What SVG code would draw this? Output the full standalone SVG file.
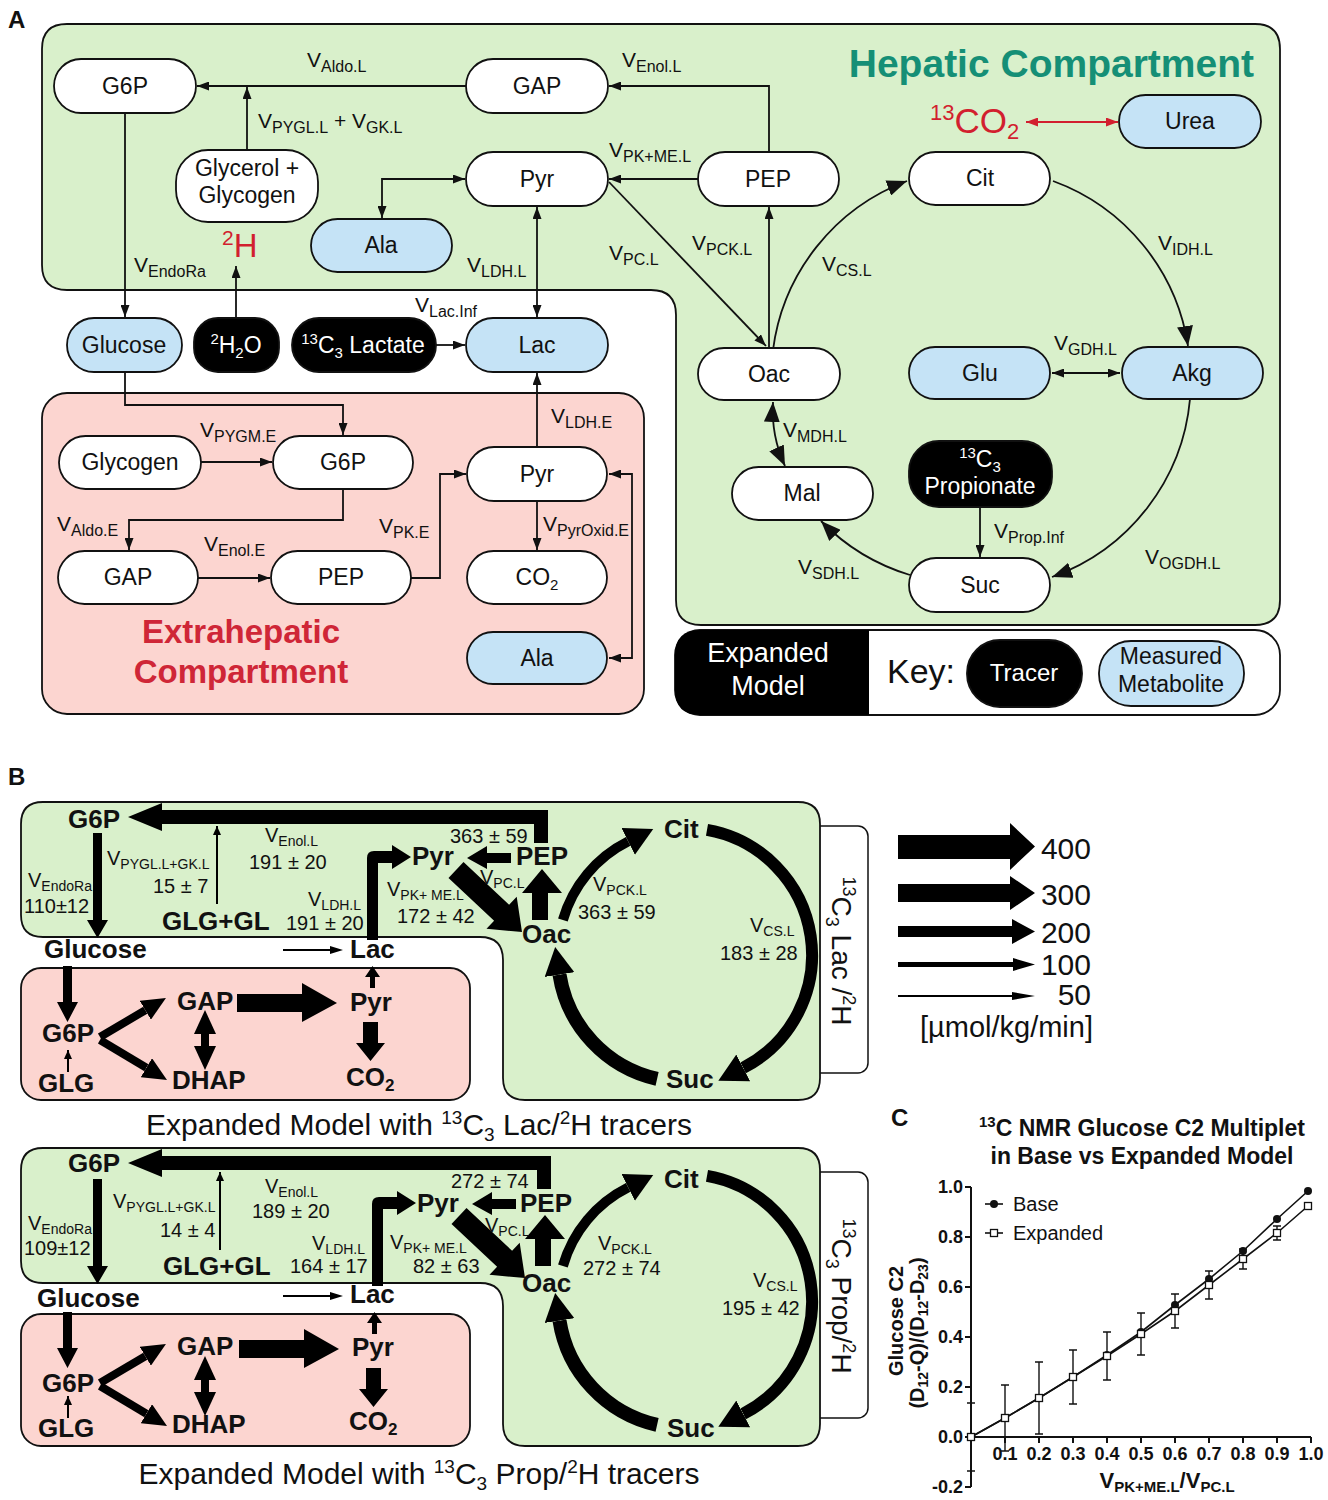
<svg xmlns="http://www.w3.org/2000/svg" width="1328" height="1500" viewBox="0 0 1328 1500">
<defs>
<style>
text{font-family:"Liberation Sans",Arial,sans-serif;fill:#111}
.nt{font-size:23px;text-anchor:middle}
.wt{fill:#fff}
.v{font-size:21px}
.s{font-size:16px}
.vb{font-size:20px}
.sb{font-size:14px}
.bn{font-size:26px;font-weight:bold}
.num{font-size:20px}
.pn{font-size:24px;font-weight:bold}
.w{fill:#fff;stroke:#111;stroke-width:1.8}
.m{fill:#c5e3f6;stroke:#111;stroke-width:1.8}
.k{fill:#000;stroke:#111;stroke-width:1.8}
.c{fill:none;stroke:#111;stroke-width:1.8}
.cr{fill:none;stroke:#d21f2f;stroke-width:1.8}
.green{fill:#d9f0cb;stroke:#111;stroke-width:1.8}
.pink{fill:#fcd5d0;stroke:#111;stroke-width:1.8}
.arc{fill:none;stroke:#000}
.ax{fill:none;stroke:#111;stroke-width:2}
.tk{font-size:18px;font-weight:bold}
</style>
<marker id="ah" viewBox="0 0 12 9" refX="12" refY="4.5" markerWidth="12" markerHeight="9" markerUnits="userSpaceOnUse" orient="auto-start-reverse"><path d="M0,0L12,4.5L0,9z" fill="#111"/></marker>
<marker id="ahr" viewBox="0 0 12 9" refX="12" refY="4.5" markerWidth="12" markerHeight="9" markerUnits="userSpaceOnUse" orient="auto-start-reverse"><path d="M0,0L12,4.5L0,9z" fill="#d21f2f"/></marker>
<marker id="ab" viewBox="0 0 20 16" refX="20" refY="8" markerWidth="20" markerHeight="16" markerUnits="userSpaceOnUse" orient="auto-start-reverse"><path d="M0,0L20,8L0,16z" fill="#111"/></marker>
<marker id="as" viewBox="0 0 9 8" refX="9" refY="4" markerWidth="9" markerHeight="8" markerUnits="userSpaceOnUse" orient="auto-start-reverse"><path d="M0,0L9,4L0,8z" fill="#000"/></marker>
<marker id="hb" viewBox="0 0 28 30" refX="0" refY="15" markerWidth="28" markerHeight="30" markerUnits="userSpaceOnUse" orient="auto"><path d="M0,0L28,15L0,30z" fill="#000"/></marker>
<marker id="hm" viewBox="0 0 24 22" refX="0" refY="11" markerWidth="24" markerHeight="22" markerUnits="userSpaceOnUse" orient="auto-start-reverse"><path d="M0,0L24,11L0,22z" fill="#000"/></marker>
</defs>
<rect width="1328" height="1500" fill="#fff"/>

<!-- ================= PANEL A ================= -->
<text x="8" y="28" class="pn">A</text>
<path id="hepatic" class="green" d="M67,24 H1255 Q1280,24 1280,49 V600 Q1280,625 1255,625 H701 Q676,625 676,600 V315 Q676,290 651,290 H67 Q42,290 42,265 V49 Q42,24 67,24 Z"/>
<rect id="extrahepatic" class="pink" x="42" y="393" width="602" height="321" rx="25"/>
<text x="1254" y="77" font-size="39" font-weight="bold" text-anchor="end" style="fill:#158f76">Hepatic Compartment</text>
<text x="241" y="643" font-size="33" font-weight="bold" text-anchor="middle" style="fill:#cf2637">Extrahepatic</text>
<text x="241" y="683" font-size="33" font-weight="bold" text-anchor="middle" style="fill:#cf2637">Compartment</text>

<g id="a-connectors">
<path class="c" d="M466,86 H197" marker-end="url(#ah)"/>
<path class="c" d="M247,150 V87" marker-end="url(#ah)"/>
<path class="c" d="M769,152 V86 H609" marker-end="url(#ah)"/>
<path class="c" d="M698,179 H609" marker-end="url(#ah)"/>
<path class="c" d="M465,179 H382 V218" marker-start="url(#ah)" marker-end="url(#ah)"/>
<path class="c" d="M537,207 V317" marker-start="url(#ah)" marker-end="url(#ah)"/>
<path class="c" d="M609,182 L766,346" marker-end="url(#ah)"/>
<path class="c" d="M769,348 V207" marker-end="url(#ah)"/>
<path class="c" d="M773,350 A209,209 0 0 1 907,181" marker-end="url(#ab)"/>
<path class="c" d="M1053,181 A209,209 0 0 1 1188,346" marker-end="url(#ab)"/>
<path class="c" d="M1190,399 A209,209 0 0 1 1052,577" marker-end="url(#ab)"/>
<path class="c" d="M910,575 A209,209 0 0 1 821,521" marker-end="url(#ab)"/>
<path class="c" d="M773,402 Q771,436 785,466" marker-start="url(#ab)" marker-end="url(#ab)"/>
<path class="c" d="M1052,373 H1120" marker-start="url(#ah)" marker-end="url(#ah)"/>
<path class="c" d="M980,507 V557" marker-end="url(#ah)"/>
<path class="cr" d="M1026,122 H1118" marker-start="url(#ahr)" marker-end="url(#ahr)"/>
<path class="c" d="M125,113 V317" marker-end="url(#ah)"/>
<path class="c" d="M236,318 V266" marker-end="url(#ah)"/>
<path class="c" d="M436,345 H465" marker-end="url(#ah)"/>
<path class="c" d="M125,372 V405 H343 V435" marker-end="url(#ah)"/>
<path class="c" d="M201,462 H272" marker-end="url(#ah)"/>
<path class="c" d="M343,489 V520 H129 V550" marker-end="url(#ah)"/>
<path class="c" d="M198,578 H270" marker-end="url(#ah)"/>
<path class="c" d="M411,578 H440 V474 H466" marker-end="url(#ah)"/>
<path class="c" d="M537,447 V373" marker-end="url(#ah)"/>
<path class="c" d="M537,501 V550" marker-end="url(#ah)"/>
<path class="c" d="M609,474 H632 V658 H609" marker-start="url(#ah)" marker-end="url(#ah)"/>
</g>

<g id="a-labels">
<text x="307" y="67" class="v">V<tspan class="s" dy="5">Aldo.L</tspan></text>
<text x="622" y="67" class="v">V<tspan class="s" dy="5">Enol.L</tspan></text>
<text x="258" y="128" class="v">V<tspan class="s" dy="5">PYGL.L</tspan><tspan dy="-5"> + V</tspan><tspan class="s" dy="5">GK.L</tspan></text>
<text x="609" y="157" class="v">V<tspan class="s" dy="5">PK+ME.L</tspan></text>
<text x="134" y="272" class="v">V<tspan class="s" dy="5">EndoRa</tspan></text>
<text x="467" y="272" class="v">V<tspan class="s" dy="5">LDH.L</tspan></text>
<text x="609" y="260" class="v">V<tspan class="s" dy="5">PC.L</tspan></text>
<text x="692" y="250" class="v">V<tspan class="s" dy="5">PCK.L</tspan></text>
<text x="822" y="271" class="v">V<tspan class="s" dy="5">CS.L</tspan></text>
<text x="1158" y="250" class="v">V<tspan class="s" dy="5">IDH.L</tspan></text>
<text x="415" y="312" class="v">V<tspan class="s" dy="5">Lac.Inf</tspan></text>
<text x="1054" y="350" class="v">V<tspan class="s" dy="5">GDH.L</tspan></text>
<text x="783" y="437" class="v">V<tspan class="s" dy="5">MDH.L</tspan></text>
<text x="994" y="538" class="v">V<tspan class="s" dy="5">Prop.Inf</tspan></text>
<text x="798" y="574" class="v">V<tspan class="s" dy="5">SDH.L</tspan></text>
<text x="1145" y="564" class="v">V<tspan class="s" dy="5">OGDH.L</tspan></text>
<text x="200" y="437" class="v">V<tspan class="s" dy="5">PYGM.E</tspan></text>
<text x="57" y="531" class="v">V<tspan class="s" dy="5">Aldo.E</tspan></text>
<text x="204" y="551" class="v">V<tspan class="s" dy="5">Enol.E</tspan></text>
<text x="379" y="533" class="v">V<tspan class="s" dy="5">PK.E</tspan></text>
<text x="551" y="423" class="v">V<tspan class="s" dy="5">LDH.E</tspan></text>
<text x="543" y="531" class="v">V<tspan class="s" dy="5">PyrOxid.E</tspan></text>
<text x="222" y="257" font-size="33" style="fill:#d21f2f"><tspan font-size="21" dy="-12">2</tspan><tspan dy="12">H</tspan></text>
<text x="930" y="133" font-size="35" style="fill:#d21f2f"><tspan font-size="22" dy="-13">13</tspan><tspan dy="13">CO</tspan><tspan font-size="22" dy="6">2</tspan></text>
</g>

<g id="node-g6p-l"><rect class="w" x="54" y="59" width="142" height="54" rx="27"/><text class="nt" x="125" y="94">G6P</text></g>
<g id="node-gap-l"><rect class="w" x="466" y="59" width="142" height="54" rx="27"/><text class="nt" x="537" y="94">GAP</text></g>
<g id="node-glycerol"><rect class="w" x="176" y="150" width="142" height="72" rx="32"/><text class="nt" x="247" y="176">Glycerol +</text><text class="nt" x="247" y="203">Glycogen</text></g>
<g id="node-pyr-l"><rect class="w" x="466" y="152" width="142" height="54" rx="27"/><text class="nt" x="537" y="187">Pyr</text></g>
<g id="node-pep-l"><rect class="w" x="698" y="152" width="141" height="54" rx="27"/><text class="nt" x="768" y="187">PEP</text></g>
<g id="node-cit"><rect class="w" x="909" y="152" width="141" height="53" rx="26.5"/><text class="nt" x="980" y="186">Cit</text></g>
<g id="node-urea"><rect class="m" x="1119" y="95" width="142" height="53" rx="26.5"/><text class="nt" x="1190" y="129">Urea</text></g>
<g id="node-ala-l"><rect class="m" x="311" y="219" width="141" height="53" rx="26.5"/><text class="nt" x="381" y="253">Ala</text></g>
<g id="node-glucose"><rect class="m" x="67" y="318" width="115" height="54" rx="27"/><text class="nt" x="124" y="353">Glucose</text></g>
<g id="node-2h2o"><rect class="k" x="194" y="318" width="85" height="54" rx="24"/><text class="nt wt" x="236" y="353"><tspan font-size="15" dy="-9">2</tspan><tspan dy="9">H</tspan><tspan font-size="15" dy="5">2</tspan><tspan dy="-5">O</tspan></text></g>
<g id="node-lactate-tracer"><rect class="k" x="292" y="318" width="144" height="54" rx="27"/><text class="nt wt" x="363" y="353"><tspan font-size="15" dy="-9">13</tspan><tspan dy="9">C</tspan><tspan font-size="15" dy="5">3</tspan><tspan dy="-5"> Lactate</tspan></text></g>
<g id="node-lac"><rect class="m" x="466" y="318" width="142" height="54" rx="27"/><text class="nt" x="537" y="353">Lac</text></g>
<g id="node-oac"><rect class="w" x="698" y="348" width="142" height="52" rx="26"/><text class="nt" x="769" y="382">Oac</text></g>
<g id="node-glu"><rect class="m" x="909" y="347" width="141" height="52" rx="26"/><text class="nt" x="980" y="381">Glu</text></g>
<g id="node-akg"><rect class="m" x="1122" y="347" width="141" height="52" rx="26"/><text class="nt" x="1192" y="381">Akg</text></g>
<g id="node-mal"><rect class="w" x="732" y="467" width="141" height="53" rx="26.5"/><text class="nt" x="802" y="501">Mal</text></g>
<g id="node-propionate"><rect class="k" x="909" y="441" width="143" height="66" rx="30"/><text class="nt wt" x="980" y="467"><tspan font-size="15" dy="-9">13</tspan><tspan dy="9">C</tspan><tspan font-size="15" dy="5">3</tspan></text><text class="nt wt" x="980" y="494">Propionate</text></g>
<g id="node-suc"><rect class="w" x="909" y="558" width="141" height="54" rx="27"/><text class="nt" x="980" y="593">Suc</text></g>
<g id="node-glycogen-e"><rect class="w" x="59" y="436" width="142" height="53" rx="26.5"/><text class="nt" x="130" y="470">Glycogen</text></g>
<g id="node-g6p-e"><rect class="w" x="273" y="436" width="140" height="53" rx="26.5"/><text class="nt" x="343" y="470">G6P</text></g>
<g id="node-pyr-e"><rect class="w" x="467" y="447" width="140" height="54" rx="27"/><text class="nt" x="537" y="482">Pyr</text></g>
<g id="node-gap-e"><rect class="w" x="58" y="551" width="140" height="53" rx="26.5"/><text class="nt" x="128" y="585">GAP</text></g>
<g id="node-pep-e"><rect class="w" x="271" y="551" width="140" height="53" rx="26.5"/><text class="nt" x="341" y="585">PEP</text></g>
<g id="node-co2-e"><rect class="w" x="467" y="551" width="140" height="53" rx="26.5"/><text class="nt" x="537" y="585">CO<tspan font-size="15" dy="5">2</tspan></text></g>
<g id="node-ala-e"><rect class="m" x="467" y="632" width="140" height="52" rx="26"/><text class="nt" x="537" y="666">Ala</text></g>

<g id="key">
<rect x="675" y="630" width="605" height="85" rx="25" fill="#fff" stroke="#111" stroke-width="1.8"/>
<path d="M700,630 H869 V715 H700 Q675,715 675,690 V655 Q675,630 700,630 Z" fill="#000"/>
<text x="768" y="662" font-size="27" text-anchor="middle" class="wt">Expanded</text>
<text x="768" y="695" font-size="27" text-anchor="middle" class="wt">Model</text>
<text x="887" y="683" font-size="34">Key:</text>
<rect class="k" x="967" y="640" width="115" height="67" rx="33"/>
<text x="1024" y="681" font-size="24" text-anchor="middle" class="wt">Tracer</text>
<rect class="m" x="1099" y="641" width="145" height="65" rx="32"/>
<text x="1171" y="664" font-size="23" text-anchor="middle">Measured</text>
<text x="1171" y="692" font-size="23" text-anchor="middle">Metabolite</text>
</g>

<!-- ================= PANEL B ================= -->
<text x="8" y="785" class="pn">B</text>

<g id="legend-arrows" fill="#000">
<path d="M898,835 H1010 V823 L1035,846.5 L1010,870 V859 H898 Z"/>
<path d="M898,884 H1010 V876 L1035,893 L1010,910 V902 H898 Z"/>
<path d="M898,926 H1012 V919 L1035,931.5 L1012,944 V937 H898 Z"/>
<path d="M898,962 H1013 V958 L1035,964.5 L1013,971 V967 H898 Z"/>
<path d="M898,995 H1012 V992 L1035,996 L1012,1000 V997 H898 Z"/>
<text x="1091" y="859" font-size="30" text-anchor="end">400</text>
<text x="1091" y="905" font-size="30" text-anchor="end">300</text>
<text x="1091" y="943" font-size="30" text-anchor="end">200</text>
<text x="1091" y="975" font-size="30" text-anchor="end">100</text>
<text x="1091" y="1005" font-size="30" text-anchor="end">50</text>
<text x="1093" y="1037" font-size="29" text-anchor="end">[µmol/kg/min]</text>
</g>

<g id="b1">
<rect x="800" y="826" width="68" height="247" rx="10" fill="#fff" stroke="#111" stroke-width="1.5"/>
<path class="green" d="M43,802 H798 Q820,802 820,824 V1078 Q820,1100 798,1100 H525 Q503,1100 503,1078 V960 Q503,937 480,937 H43 Q21,937 21,915 V824 Q21,802 43,802 Z"/>
<rect class="pink" x="21" y="968" width="449" height="132" rx="20"/>
<text transform="translate(832,951) rotate(90)" font-size="28" text-anchor="middle"><tspan font-size="18" dy="-11">13</tspan><tspan dy="11">C</tspan><tspan font-size="18" dy="6">3</tspan><tspan dy="-6"> Lac /</tspan><tspan font-size="18" dy="-11">2</tspan><tspan dy="11">H</tspan></text>
<g fill="#000">
<path d="M548,843 V810 H162 V803 L128,817 L162,831 V824 H534 V843 Z"/>
<line x1="217" y1="904" x2="217" y2="826" stroke="#000" stroke-width="2" marker-end="url(#as)"/>
<path d="M93,833 H102 V920 H108 L97.5,938 L87,920 H93 Z"/>
<path d="M367,940 V858 Q367,851 374,851 H392 V845 L411,857 L392,869 V863 H378 V940 Z"/>
<path d="M283,949 H330 V946 L343,950 L330,954 V951 H283 Z"/>
<path d="M511,853 V863 H487 V869 L467,858 L487,846 V853 Z"/>
<polygon points="463.5,862 509.1,904.8 516.7,896.8 522,932 486.5,928.8 494.1,920.8 448.5,878"/>
<path d="M532,920 V893 H522 L542,869 L562,893 H548 V920 Z"/>
<path class="arc" stroke-width="10" d="M562.9,920 A127,127 0 0 1 628.2,841.4" marker-end="url(#hb)"/>
<path class="arc" stroke-width="12" d="M707,829.9 A127,127 0 0 1 743.2,1067.9" marker-end="url(#hb)"/>
<path class="arc" stroke-width="14" d="M657.1,1078.9 A127,127 0 0 1 559.5,974.6" marker-end="url(#hb)"/>
<path d="M63,966 H72 V1002 H78 L67.5,1022 L57,1002 H63 Z"/>
<line x1="68" y1="1072" x2="68" y2="1050" stroke="#000" stroke-width="2" marker-end="url(#as)"/>
<line x1="100" y1="1037" x2="145.3" y2="1010.2" stroke="#000" stroke-width="8" marker-end="url(#hm)"/>
<line x1="100" y1="1040" x2="146.4" y2="1067.7" stroke="#000" stroke-width="8" marker-end="url(#hm)"/>
<line x1="205" y1="1034" x2="205" y2="1046" stroke="#000" stroke-width="8" marker-start="url(#hm)" marker-end="url(#hm)"/>
<path d="M237,994 H302 V983 L337,1003 L302,1022 V1012 H237 Z"/>
<path d="M370,988 V977 H365 L372.5,966 L380,977 H375 V988 Z"/>
<path d="M363,1022 H378 V1043 H385 L370.5,1061 L356,1043 H363 Z"/>
</g>
<text x="68" y="828" class="bn">G6P</text>
<text x="28" y="887" class="vb">V<tspan class="sb" dy="4">EndoRa</tspan></text>
<text x="24" y="913" class="num">110±12</text>
<text x="107" y="865" class="vb">V<tspan class="sb" dy="4">PYGL.L+GK.L</tspan></text>
<text x="153" y="893" class="num">15 ± 7</text>
<text x="162" y="930" class="bn">GLG+GL</text>
<text x="265" y="842" class="vb">V<tspan class="sb" dy="4">Enol.L</tspan></text>
<text x="249" y="869" class="num">191 ± 20</text>
<text x="308" y="906" class="vb">V<tspan class="sb" dy="4">LDH.L</tspan></text>
<text x="286" y="930" class="num">191 ± 20</text>
<text x="44" y="958" class="bn">Glucose</text>
<text x="350" y="958" class="bn">Lac</text>
<text x="412" y="865" class="bn">Pyr</text>
<text x="516" y="865" class="bn">PEP</text>
<text x="450" y="843" class="num">363 ± 59</text>
<text x="480" y="884" class="vb">V<tspan class="sb" dy="4">PC.L</tspan></text>
<text x="387" y="896" class="vb">V<tspan class="sb" dy="4">PK+ ME.L</tspan></text>
<text x="397" y="923" class="num">172 ± 42</text>
<text x="522" y="943" class="bn">Oac</text>
<text x="593" y="891" class="vb">V<tspan class="sb" dy="4">PCK.L</tspan></text>
<text x="578" y="919" class="num">363 ± 59</text>
<text x="750" y="932" class="vb">V<tspan class="sb" dy="4">CS.L</tspan></text>
<text x="720" y="960" class="num">183 ± 28</text>
<text x="664" y="838" class="bn">Cit</text>
<text x="666" y="1088" class="bn">Suc</text>
<text x="42" y="1042" class="bn">G6P</text>
<text x="38" y="1092" class="bn">GLG</text>
<text x="177" y="1010" class="bn">GAP</text>
<text x="172" y="1089" class="bn">DHAP</text>
<text x="350" y="1011" class="bn">Pyr</text>
<text x="346" y="1086" class="bn">CO<tspan font-size="17" dy="5">2</tspan></text>
<text x="419" y="1135" font-size="30" text-anchor="middle">Expanded Model with <tspan font-size="19" dy="-11">13</tspan><tspan dy="11">C</tspan><tspan font-size="19" dy="6">3</tspan><tspan dy="-6"> Lac/</tspan><tspan font-size="19" dy="-11">2</tspan><tspan dy="11">H tracers</tspan></text>
</g>

<g id="b2" transform="translate(0,346)">
<rect x="800" y="826" width="68" height="246" rx="10" fill="#fff" stroke="#111" stroke-width="1.5"/>
<path class="green" d="M43,802 H798 Q820,802 820,824 V1078 Q820,1100 798,1100 H525 Q503,1100 503,1078 V960 Q503,937 480,937 H43 Q21,937 21,915 V824 Q21,802 43,802 Z"/>
<rect class="pink" x="21" y="968" width="449" height="132" rx="20"/>
<text transform="translate(832,950) rotate(90)" font-size="28" text-anchor="middle"><tspan font-size="18" dy="-11">13</tspan><tspan dy="11">C</tspan><tspan font-size="18" dy="6">3</tspan><tspan dy="-6"> Prop/</tspan><tspan font-size="18" dy="-11">2</tspan><tspan dy="11">H</tspan></text>
<g fill="#000">
<path d="M551,843 V810 H162 V803 L128,817 L162,831 V824 H537 V843 Z"/>
<line x1="220" y1="904" x2="220" y2="826" stroke="#000" stroke-width="2" marker-end="url(#as)"/>
<path d="M93,833 H102 V920 H108 L97.5,938 L87,920 H93 Z"/>
<path d="M372,940 V858 Q372,851 379,851 H397 V845 L416,857 L397,869 V863 H383 V940 Z"/>
<path d="M283,949 H330 V946 L343,950 L330,954 V951 H283 Z"/>
<path d="M516,853 V863 H492 V869 L472,858 L492,846 V853 Z"/>
<polygon points="466.5,862 512.1,904.8 519.7,896.8 525,932 489.5,928.8 497.1,920.8 451.5,878"/>
<path d="M535,920 V893 H525 L545,869 L565,893 H551 V920 Z"/>
<path class="arc" stroke-width="10" d="M562.9,920 A127,127 0 0 1 628.2,841.4" marker-end="url(#hb)"/>
<path class="arc" stroke-width="12" d="M707,829.9 A127,127 0 0 1 743.2,1067.9" marker-end="url(#hb)"/>
<path class="arc" stroke-width="14" d="M657.1,1078.9 A127,127 0 0 1 559.5,974.6" marker-end="url(#hb)"/>
<path d="M63,966 H72 V1002 H78 L67.5,1022 L57,1002 H63 Z"/>
<line x1="68" y1="1072" x2="68" y2="1050" stroke="#000" stroke-width="2" marker-end="url(#as)"/>
<line x1="100" y1="1037" x2="145.3" y2="1010.2" stroke="#000" stroke-width="8" marker-end="url(#hm)"/>
<line x1="100" y1="1040" x2="146.4" y2="1067.7" stroke="#000" stroke-width="8" marker-end="url(#hm)"/>
<line x1="205" y1="1034" x2="205" y2="1046" stroke="#000" stroke-width="8" marker-start="url(#hm)" marker-end="url(#hm)"/>
<path d="M239,994 H304 V983 L339,1003 L304,1022 V1012 H239 Z"/>
<path d="M372,988 V977 H367 L374.5,966 L382,977 H377 V988 Z"/>
<path d="M366,1022 H381 V1043 H388 L373.5,1061 L359,1043 H366 Z"/>
</g>
<text x="68" y="826" class="bn">G6P</text>
<text x="28" y="884" class="vb">V<tspan class="sb" dy="4">EndoRa</tspan></text>
<text x="24" y="909" class="num">109±12</text>
<text x="113" y="862" class="vb">V<tspan class="sb" dy="4">PYGL.L+GK.L</tspan></text>
<text x="160" y="891" class="num">14 ± 4</text>
<text x="163" y="929" class="bn">GLG+GL</text>
<text x="265" y="847" class="vb">V<tspan class="sb" dy="4">Enol.L</tspan></text>
<text x="252" y="872" class="num">189 ± 20</text>
<text x="312" y="904" class="vb">V<tspan class="sb" dy="4">LDH.L</tspan></text>
<text x="290" y="927" class="num">164 ± 17</text>
<text x="37" y="961" class="bn">Glucose</text>
<text x="350" y="957" class="bn">Lac</text>
<text x="417" y="866" class="bn">Pyr</text>
<text x="520" y="866" class="bn">PEP</text>
<text x="451" y="842" class="num">272 ± 74</text>
<text x="485" y="886" class="vb">V<tspan class="sb" dy="4">PC.L</tspan></text>
<text x="390" y="903" class="vb">V<tspan class="sb" dy="4">PK+ ME.L</tspan></text>
<text x="413" y="927" class="num">82 ± 63</text>
<text x="522" y="946" class="bn">Oac</text>
<text x="598" y="904" class="vb">V<tspan class="sb" dy="4">PCK.L</tspan></text>
<text x="583" y="929" class="num">272 ± 74</text>
<text x="753" y="941" class="vb">V<tspan class="sb" dy="4">CS.L</tspan></text>
<text x="722" y="969" class="num">195 ± 42</text>
<text x="664" y="842" class="bn">Cit</text>
<text x="667" y="1091" class="bn">Suc</text>
<text x="42" y="1046" class="bn">G6P</text>
<text x="38" y="1091" class="bn">GLG</text>
<text x="177" y="1009" class="bn">GAP</text>
<text x="172" y="1087" class="bn">DHAP</text>
<text x="352" y="1010" class="bn">Pyr</text>
<text x="349" y="1084" class="bn">CO<tspan font-size="17" dy="5">2</tspan></text>
<text x="419" y="1138" font-size="30" text-anchor="middle">Expanded Model with <tspan font-size="19" dy="-11">13</tspan><tspan dy="11">C</tspan><tspan font-size="19" dy="6">3</tspan><tspan dy="-6"> Prop/</tspan><tspan font-size="19" dy="-11">2</tspan><tspan dy="11">H tracers</tspan></text>
</g>

<!-- ================= PANEL C ================= -->
<g id="panel-c">
<text x="891" y="1126" class="pn">C</text>
<text x="1142" y="1136" font-size="23" font-weight="bold" text-anchor="middle"><tspan font-size="15" dy="-9">13</tspan><tspan dy="9">C NMR Glucose C2 Multiplet</tspan></text>
<text x="1142" y="1164" font-size="23" font-weight="bold" text-anchor="middle">in Base vs Expanded Model</text>
<path class="ax" d="M971,1187 V1487 M971,1437 H1311"/>
<path class="ax" d="M965,1187 H971 M965,1237 H971 M965,1287 H971 M965,1337 H971 M965,1387 H971 M965,1437 H971 M965,1487 H971 M1005,1437 V1443 M1039,1437 V1443 M1073,1437 V1443 M1107,1437 V1443 M1141,1437 V1443 M1175,1437 V1443 M1209,1437 V1443 M1243,1437 V1443 M1277,1437 V1443 M1311,1437 V1443"/>
<g text-anchor="end">
<text x="963" y="1193" class="tk">1.0</text>
<text x="963" y="1243" class="tk">0.8</text>
<text x="963" y="1293" class="tk">0.6</text>
<text x="963" y="1343" class="tk">0.4</text>
<text x="963" y="1393" class="tk">0.2</text>
<text x="963" y="1443" class="tk">0.0</text>
<text x="963" y="1493" class="tk">-0.2</text>
</g>
<g text-anchor="middle">
<text x="1005" y="1460" class="tk">0.1</text>
<text x="1039" y="1460" class="tk">0.2</text>
<text x="1073" y="1460" class="tk">0.3</text>
<text x="1107" y="1460" class="tk">0.4</text>
<text x="1141" y="1460" class="tk">0.5</text>
<text x="1175" y="1460" class="tk">0.6</text>
<text x="1209" y="1460" class="tk">0.7</text>
<text x="1243" y="1460" class="tk">0.8</text>
<text x="1277" y="1460" class="tk">0.9</text>
<text x="1311" y="1460" class="tk">1.0</text>
</g>
<text x="1167" y="1488" font-size="22" font-weight="bold" text-anchor="middle">V<tspan font-size="15" dy="4">PK+ME.L</tspan><tspan dy="-4">/V</tspan><tspan font-size="15" dy="4">PC.L</tspan></text>
<text transform="translate(903,1321) rotate(-90)" font-size="20" font-weight="bold" text-anchor="middle">Glucose C2</text>
<text transform="translate(924,1333) rotate(-90)" font-size="20" font-weight="bold" text-anchor="middle">(D<tspan font-size="14" dy="4">12</tspan><tspan dy="-4">-Q)/(D</tspan><tspan font-size="14" dy="4">12</tspan><tspan dy="-4">-D</tspan><tspan font-size="14" dy="4">23</tspan><tspan dy="-4">)</tspan></text>
<path fill="none" stroke="#111" stroke-width="1.4" d="M971,1403 V1471 M967,1403 H975 M967,1471 H975 M1005,1385 V1451 M1001,1385 H1009 M1001,1451 H1009 M1039,1362 V1434 M1035,1362 H1043 M1035,1434 H1043 M1073,1350 V1404 M1069,1350 H1077 M1069,1404 H1077 M1107,1332 V1380 M1103,1332 H1111 M1103,1380 H1111 M1141,1313 V1355 M1137,1313 H1145 M1137,1355 H1145 M1175,1294 V1328 M1171,1294 H1179 M1171,1328 H1179 M1209,1271 V1299 M1205,1271 H1213 M1205,1299 H1213 M1243,1249 V1269 M1239,1249 H1247 M1239,1269 H1247 M1277,1226 V1240 M1273,1226 H1281 M1273,1240 H1281"/>
<polyline fill="none" stroke="#111" stroke-width="1.6" points="971,1437 1005,1418 1039,1398 1073,1377 1107,1355 1141,1332 1175,1305 1209,1279 1243,1251 1277,1219 1308,1191"/>
<polyline fill="none" stroke="#111" stroke-width="1.6" points="971,1437 1005,1418 1039,1398 1073,1377 1107,1356 1141,1334 1175,1311 1209,1285 1243,1259 1277,1233 1308,1206"/>
<g fill="#111">
<circle cx="971" cy="1437" r="4"/><circle cx="1005" cy="1418" r="4"/><circle cx="1039" cy="1398" r="4"/><circle cx="1073" cy="1377" r="4"/><circle cx="1107" cy="1355" r="4"/><circle cx="1141" cy="1332" r="4"/><circle cx="1175" cy="1305" r="4"/><circle cx="1209" cy="1279" r="4"/><circle cx="1243" cy="1251" r="4"/><circle cx="1277" cy="1219" r="4"/><circle cx="1308" cy="1191" r="4"/>
</g>
<g fill="#fff" stroke="#111" stroke-width="1.3">
<rect x="967.5" y="1433.5" width="7" height="7"/><rect x="1001.5" y="1414.5" width="7" height="7"/><rect x="1035.5" y="1394.5" width="7" height="7"/><rect x="1069.5" y="1373.5" width="7" height="7"/><rect x="1103.5" y="1352.5" width="7" height="7"/><rect x="1137.5" y="1330.5" width="7" height="7"/><rect x="1171.5" y="1307.5" width="7" height="7"/><rect x="1205.5" y="1281.5" width="7" height="7"/><rect x="1239.5" y="1255.5" width="7" height="7"/><rect x="1273.5" y="1229.5" width="7" height="7"/><rect x="1304.5" y="1202.5" width="7" height="7"/>
</g>
<line x1="985" y1="1204" x2="1003" y2="1204" stroke="#111" stroke-width="1.6"/>
<circle cx="994" cy="1204" r="4" fill="#111"/>
<text x="1013" y="1211" font-size="20">Base</text>
<line x1="985" y1="1233" x2="1003" y2="1233" stroke="#111" stroke-width="1.6"/>
<rect x="990.5" y="1229.5" width="7" height="7" fill="#fff" stroke="#111" stroke-width="1.3"/>
<text x="1013" y="1240" font-size="20">Expanded</text>
</g>
</svg>
